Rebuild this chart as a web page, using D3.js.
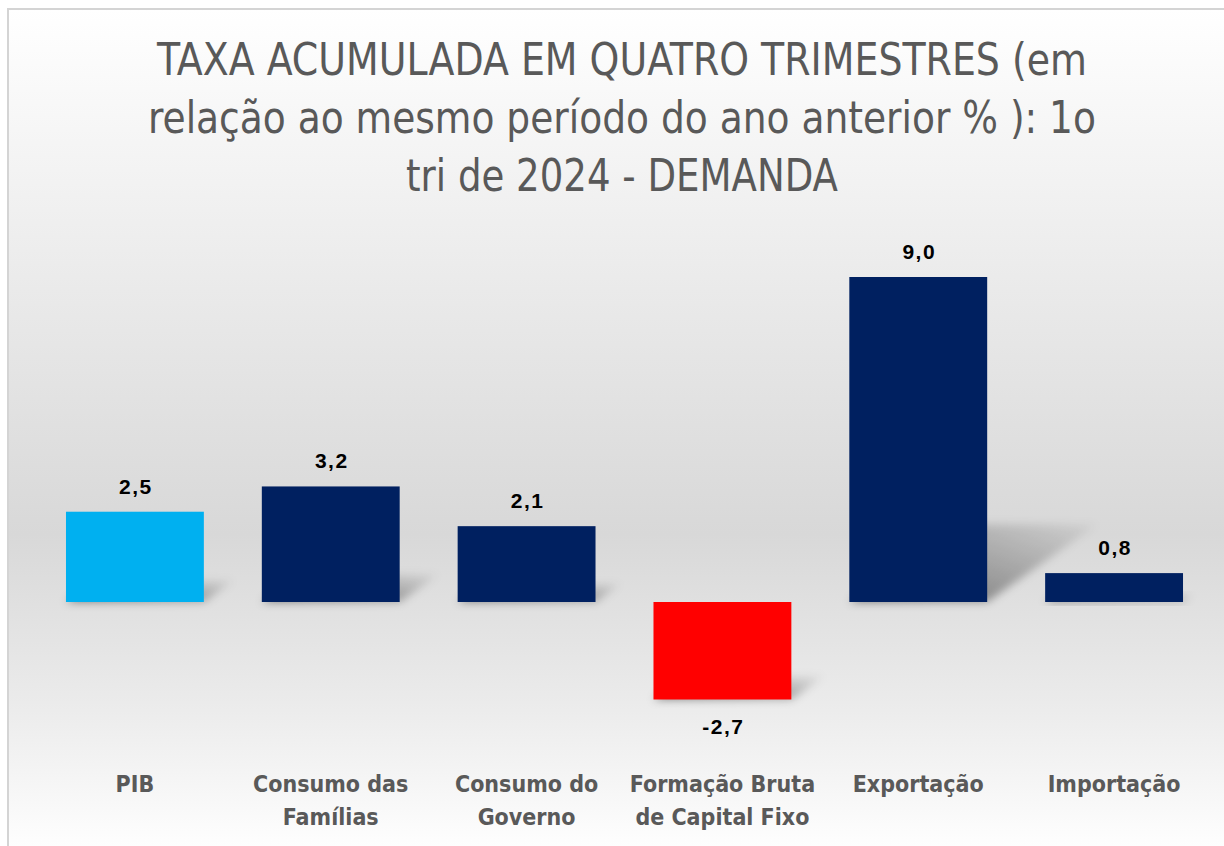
<!DOCTYPE html>
<html>
<head>
<meta charset="utf-8">
<script src="https://cdn.jsdelivr.net/npm/d3@7"></script>
<style>
  html, body { margin: 0; padding: 0; background: #fff; }
  svg { display: block; }
</style>
</head>
<body>
<div id="chart"></div>
<script>
// Taxa acumulada em quatro trimestres - 1o tri 2024 - demanda

const categories = ['PIB', 'Consumo das Famílias', 'Consumo do Governo', 'Formação Bruta de Capital Fixo', 'Exportação', 'Importação']
const labelLines = [['PIB'], ['Consumo das', 'Famílias'], ['Consumo do', 'Governo'], ['Formação Bruta', 'de Capital Fixo'], ['Exportação'], ['Importação']]
const values = [2.5, 3.2, 2.1, -2.7, 9.0, 0.8]
const barColors = ['#00b0f0', '#002060', '#002060', '#ff0000', '#002060', '#002060']
const titleLines = ['TAXA ACUMULADA EM QUATRO TRIMESTRES (em', 'relação ao  mesmo período do ano anterior % ): 1o', 'tri de 2024 - DEMANDA']

const W = 1224, H = 846
const narrow = "'Liberation Sans Narrow', 'DejaVu Sans Condensed', 'Arial Narrow', sans-serif"

const svg = d3.select('#chart')
    .append('svg')
    .attr('width', W)
    .attr('height', H)

const defs = svg.append('defs')

// background gradient (white top, gray middle, white bottom)
const bg = defs.append('linearGradient')
    .attr('id', 'bg')
    .attr('x1', 0).attr('y1', 0).attr('x2', 0).attr('y2', 1)
bg.append('stop').attr('offset', '0%').attr('stop-color', '#ffffff')
bg.append('stop').attr('offset', '30%').attr('stop-color', '#ececec')
bg.append('stop').attr('offset', '62%').attr('stop-color', '#d8d8d8')
bg.append('stop').attr('offset', '82%').attr('stop-color', '#ebebeb')
bg.append('stop').attr('offset', '100%').attr('stop-color', '#ffffff')

const shadowGrad = defs.append('linearGradient')
    .attr('id', 'shadowGrad')
    .attr('x1', 0).attr('y1', 1).attr('x2', 1).attr('y2', 0)
shadowGrad.append('stop').attr('offset', '0%').attr('stop-color', '#000').attr('stop-opacity', 0.5)
shadowGrad.append('stop').attr('offset', '100%').attr('stop-color', '#000').attr('stop-opacity', 0.03)

defs.append('filter')
    .attr('id', 'blur')
    .attr('x', '-50%').attr('y', '-50%').attr('width', '200%').attr('height', '200%')
    .append('feGaussianBlur')
    .attr('stdDeviation', 4)

// chart area with border
svg.append('rect')
    .attr('x', 0).attr('y', 0)
    .attr('width', W).attr('height', H)
    .attr('fill', '#fff')

svg.append('rect')
    .attr('x', 8).attr('y', 9)
    .attr('width', W).attr('height', H)
    .attr('fill', 'url(#bg)')
    .attr('stroke', '#d4d4d4')
    .attr('stroke-width', 2)

// Scales
const x = d3.scaleBand()
    .domain(categories)
    .range([37, 1212])
    .paddingInner(0.296)
    .paddingOuter(0.148)

const y = d3.scaleLinear()
    .domain([0, 9])
    .range([602, 277])

// Title
svg.append('g')
    .selectAll('text')
    .data(titleLines)
    .join('text')
    .attr('x', 622)
    .attr('y', (d, i) => 75 + i * 58)
    .attr('text-anchor', 'middle')
    .attr('font-family', narrow)
    .attr('font-size', 44)
    .attr('fill', '#595959')
    .attr('textLength', (d, i) => [930, 948, 432][i])
    .attr('lengthAdjust', 'spacingAndGlyphs')
    .text(d => d)

const data = categories.map((c, i) => ({ cat: c, value: values[i], color: barColors[i], lines: labelLines[i] }))

// Perspective shadows behind bars
svg.append('g')
    .selectAll('polygon')
    .data(data)
    .join('polygon')
    .attr('points', d => {
        const top = y(Math.max(0, d.value))
        const bottom = y(Math.min(0, d.value))
        const h = bottom - top
        const x0 = x(d.cat), x1 = x0 + x.bandwidth()
        const dx = h * 0.34, dy = h * 0.24
        return [[x0, bottom], [x1, bottom], [x1 + dx, bottom - dy], [x0 + dx, bottom - dy]]
            .map(p => p.join(',')).join(' ')
    })
    .attr('fill', 'url(#shadowGrad)')
    .attr('filter', 'url(#blur)')

// Bars
svg.append('g')
    .selectAll('rect')
    .data(data)
    .join('rect')
    .attr('x', d => x(d.cat))
    .attr('y', d => y(Math.max(0, d.value)))
    .attr('width', x.bandwidth())
    .attr('height', d => Math.abs(y(d.value) - y(0)))
    .attr('fill', d => d.color)

// Value labels (comma decimal, plain hyphen for negatives)
svg.append('g')
    .selectAll('text')
    .data(data)
    .join('text')
    .attr('x', d => x(d.cat) + x.bandwidth() / 2 + 1)
    .attr('y', d => d.value >= 0 ? y(d.value) - 18 : y(d.value) + 34)
    .attr('text-anchor', 'middle')
    .attr('font-family', "'Liberation Sans', Arial, sans-serif")
    .attr('font-weight', 'bold')
    .attr('font-size', 21)
    .attr('letter-spacing', 1.5)
    .attr('fill', '#000')
    .text(d => d.value.toFixed(1).replace('.', ','))

// Category labels
const catLabels = svg.append('g')
    .selectAll('text')
    .data(data)
    .join('text')
    .attr('x', d => x(d.cat) + x.bandwidth() / 2)
    .attr('y', 792)
    .attr('text-anchor', 'middle')
    .attr('font-family', narrow)
    .attr('font-weight', 'bold')
    .attr('font-size', 23)
    .attr('fill', '#595959')

catLabels.selectAll('tspan')
    .data(d => d.lines)
    .join('tspan')
    .attr('x', function () { return d3.select(this.parentNode).attr('x') })
    .attr('dy', (d, i) => i === 0 ? 0 : 33)
    .text(d => d)

console.log('chart rendered')
</script>
</body>
</html>
